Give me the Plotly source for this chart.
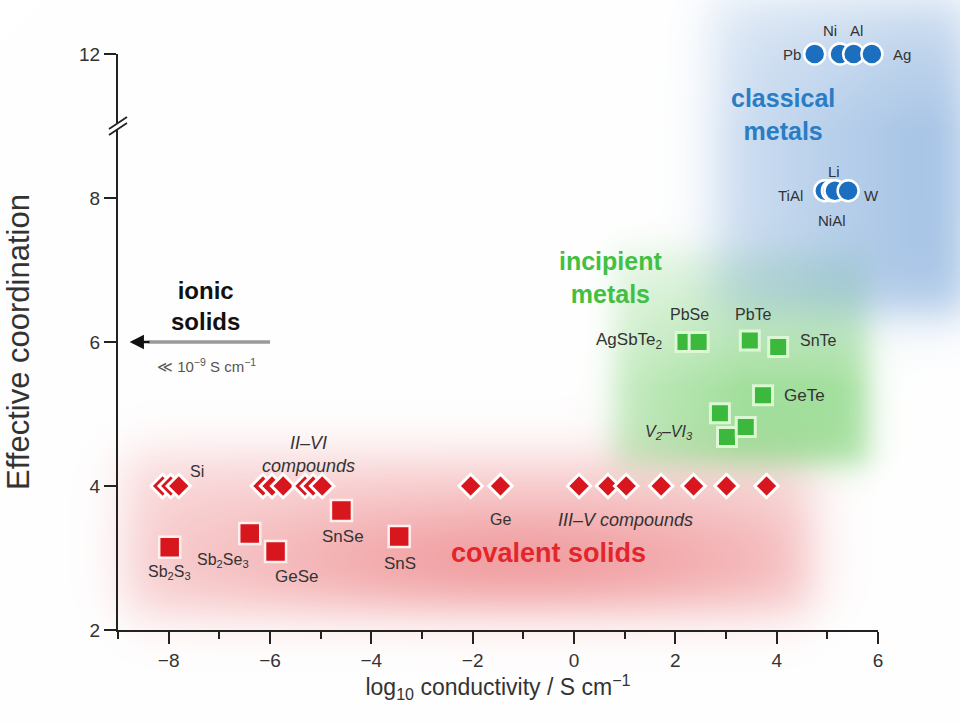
import base64, struct, zlib
import numpy as np
import plotly.graph_objects as go

# ---------------- data ----------------
# covalent solids (diamonds, coordination 4)
diamond_x = [-8.12, -7.96, -7.80, -6.14, -5.96, -5.74, -5.31, -5.15, -4.97,
             -2.04, -1.45, 0.10, 0.67, 1.03, 1.72, 2.36, 3.01, 3.80]
diamond_y = [4.0, 4.0, 4.0, 4.0, 4.0, 4.0, 4.0, 4.0, 4.0,
             4.0, 4.0, 4.0, 4.0, 4.0, 4.0, 4.0, 4.0, 4.0]

# covalent solids (squares)
covsq_names = ["Sb2S3", "Sb2Se3", "GeSe", "SnSe", "SnS"]
covsq_x = [-7.98, -6.40, -5.89, -4.59, -3.45]
covsq_y = [3.15, 3.34, 3.09, 3.66, 3.30]

# incipient metals (green squares)
inc_names = ["AgSbTe2", "PbSe", "PbTe", "SnTe", "GeTe", "V2VI3", "V2VI3", "V2VI3"]
inc_x = [2.20, 2.46, 3.47, 4.03, 3.73, 3.02, 2.88, 3.39]
inc_y = [6.00, 6.00, 6.02, 5.93, 5.26, 4.68, 5.01, 4.82]

# classical metals (circles; fcc at 12, bcc/others at 8)
met_x = [4.75, 5.25, 5.52, 5.88, 4.95, 5.10, 5.15, 5.41]
met_y = [12.0, 12.0, 12.0, 12.0, 8.1, 8.1, 8.1, 8.1]

# axis ticks
x_ticks = [-8, -6, -4, -2, 0, 2, 4, 6]
y_ticks_true = [2, 4, 6, 8, 12]

# ---------------- helpers ----------------
BREAK_LOW, BREAK_SHIFT = 8.5, 2.0   # broken y axis: 12 drawn where 10 would be


def ybrk(v):
    return v if v <= BREAK_LOW else v - BREAK_SHIFT


W, H = 960, 723
ML, MR, MT, MB = 118, 82, 54, 93
XR = [-9, 6]
YR = [2, 10]
PW, PH = W - ML - MR, H - MT - MB


def px(x):
    return ML + (x - XR[0]) / (XR[1] - XR[0]) * PW


def py(y):
    return MT + (YR[1] - y) / (YR[1] - YR[0]) * PH


def xpaper(x):
    return (x - XR[0]) / (XR[1] - XR[0])


def ypaper(y):
    return (y - YR[0]) / (YR[1] - YR[0])


# ---------------- soft background glows ----------------
xs = np.arange(W) + 0.5
ys = np.arange(H) + 0.5


def sig(t):
    return 1.0 / (1.0 + np.exp(-t))


def soft_rect(x0, x1, y0, y1, s):
    X0, X1 = px(x0), px(x1)
    Y0, Y1 = py(y1), py(y0)
    fx = sig((xs - X0) / s) * sig((X1 - xs) / s)
    fy = sig((ys - Y0) / s) * sig((Y1 - ys) / s)
    return np.outer(fy, fx)


def blob(cx, cy, rx, ry):
    gx = np.exp(-((xs - px(cx)) / rx) ** 2)
    gy = np.exp(-((ys - py(cy)) / ry) ** 2)
    return np.outer(gy, gx)


img = np.ones((H, W, 3)) * 255.0


def paint(alpha, color):
    global img
    a = np.clip(alpha, 0, 1)[..., None]
    img = img * (1 - a) + np.array(color, float)[None, None, :] * a


# red (covalent)
red_box = soft_rect(-8.85, 4.7, 2.2, 4.45, 15)
red_a = red_box * (0.22 + 0.30 * blob(-1.0, 2.9, 300, 70))
paint(red_a, (228, 70, 75))
# green (incipient)
gx_ramp = np.clip((xs - px(0.8)) / 130.0, 0, 1)
gy_ramp = np.clip((ys - py(7.3)) / 140.0, 0, 1)
green_a = soft_rect(0.78, 5.8, 4.3, 7.35, 9) * (0.14 + 0.44 * np.outer(gy_ramp, np.ones(W)) * (0.5 + 0.5 * gx_ramp[None, :]))
paint(green_a, (95, 200, 85))
# blue (classical)
bx_ramp = np.clip((xs - px(2.8)) / 220.0, 0, 1)
by_ramp = np.clip((ys - py(10.6)) / 120.0, 0, 1)
blue_a = soft_rect(2.72, 7.8, 6.4, 10.8, 14) * (0.16 + 0.36 * np.outer(0.45 + 0.55 * by_ramp, 0.3 + 0.7 * bx_ramp))
paint(blue_a, (80, 138, 205))

rgb = np.clip(img, 0, 255).astype(np.uint8)


def png_uri(arr):
    h, w, _ = arr.shape
    raw = b"".join(b"\x00" + arr[i].tobytes() for i in range(h))

    def chunk(t, d):
        c = struct.pack(">I", len(d)) + t + d
        return c + struct.pack(">I", zlib.crc32(t + d) & 0xFFFFFFFF)

    data = (b"\x89PNG\r\n\x1a\n" + chunk(b"IHDR", struct.pack(">IIBBBBB", w, h, 8, 2, 0, 0, 0))
            + chunk(b"IDAT", zlib.compress(raw, 9)) + chunk(b"IEND", b""))
    return "data:image/png;base64," + base64.b64encode(data).decode()


# ---------------- figure ----------------
fig = go.Figure()

fig.add_trace(go.Scatter(
    x=diamond_x, y=diamond_y, mode="markers", cliponaxis=False,
    marker=dict(symbol="diamond", size=18, color="#d7161d", line=dict(color="white", width=3)),
    hoverinfo="skip"))
fig.add_trace(go.Scatter(
    x=covsq_x, y=covsq_y, mode="markers", cliponaxis=False, text=covsq_names,
    marker=dict(symbol="square", size=21, color="#d7161d", line=dict(color="#fff0f0", width=2.5))))
fig.add_trace(go.Scatter(
    x=inc_x, y=inc_y, mode="markers", cliponaxis=False, text=inc_names,
    marker=dict(symbol="square", size=19, color="#3cb83c", line=dict(color="#dcf7d4", width=3))))
fig.add_trace(go.Scatter(
    x=met_x, y=[ybrk(v) for v in met_y], mode="markers", cliponaxis=False,
    marker=dict(symbol="circle", size=21, color="#1c6fbf", line=dict(color="white", width=2.5)),
    hoverinfo="skip"))

# ---------------- annotations ----------------
ann = []


def label(text, x, y, size=16, color="#333333", italic=False, bold=False):
    t = text
    if italic:
        t = "<i>" + t + "</i>"
    if bold:
        t = "<b>" + t + "</b>"
    ann.append(dict(x=xpaper(x), y=ypaper(y), xref="paper", yref="paper", text=t,
                    showarrow=False, xanchor="center", yanchor="middle",
                    font=dict(size=size, color=color)))


label("Si", -7.45, 4.20)
label("II–VI<br>compounds", -5.25, 4.44, size=18, italic=True)
label("Ge", -1.45, 3.53)
label("III–V compounds", 1.01, 3.53, size=18, italic=True)
label("Sb<sub>2</sub>S<sub>3</sub>", -7.98, 2.80)
label("Sb<sub>2</sub>Se<sub>3</sub>", -6.93, 2.97)
label("GeSe", -5.47, 2.74, size=17)
label("SnSe", -4.55, 3.30, size=17)
label("SnS", -3.43, 2.93, size=17)
label("AgSbTe<sub>2</sub>", 1.10, 6.01, size=17)
label("PbSe", 2.28, 6.38)
label("PbTe", 3.54, 6.38)
label("SnTe", 4.83, 6.02)
label("GeTe", 4.55, 5.26, size=17)
label("V<sub>2</sub>–VI<sub>3</sub>", 1.88, 4.74, italic=True)
label("Pb", 4.30, ybrk(12.0), size=15)
label("Ni", 5.05, ybrk(12.33), size=15)
label("Al", 5.58, ybrk(12.33), size=15)
label("Ag", 6.47, ybrk(12.0), size=15)
label("Li", 5.14, ybrk(8.37), size=15)
label("TiAl", 4.27, ybrk(8.04), size=15)
label("NiAl", 5.10, ybrk(7.69), size=15)
label("W", 5.88, ybrk(8.04), size=15)

label("classical<br>metals", 4.12, 9.16, size=25, color="#2a7cc4", bold=True)
label("incipient<br>metals", 0.72, 6.89, size=25, color="#43bf43", bold=True)
label("covalent solids", -0.50, 3.07, size=27, color="#e3262b", bold=True)
label("ionic<br>solids", -7.27, 6.50, size=24, color="#111111", bold=True)
label("≪ 10<sup>−9</sup> S cm<sup>−1</sup>", -7.25, 5.68, size=15, color="#555555")

# arrow for ionic solids
ann.append(dict(x=-8.77, y=6.0, ax=-8.35, ay=6.0, xref="x", yref="y", axref="x", ayref="y",
                text="", showarrow=True, arrowhead=2, arrowsize=1.1, arrowwidth=2.6,
                arrowcolor="#111111"))

shapes = [
    dict(type="line", xref="x", yref="y", x0=-6.0, x1=-8.4, y0=6.0, y1=6.0,
         line=dict(color="#9a9a9a", width=3.5)),
]


# broken-axis marks (paper coordinates derived from the axis mapping)
def ppx(pxv):
    return (pxv - ML) / PW


def ppy(pyv):
    return 1 - (pyv - MT) / PH


brk_y = py(9.0)
shapes.append(dict(type="rect", xref="paper", yref="paper", x0=ppx(ML - 4), x1=ppx(ML + 4),
                   y0=ppy(brk_y + 3), y1=ppy(brk_y - 3), line=dict(width=0), fillcolor="white"))
for off in (-3, 3):
    shapes.append(dict(type="line", xref="paper", yref="paper",
                       x0=ppx(ML - 9), y0=ppy(brk_y + off + 6), x1=ppx(ML + 9), y1=ppy(brk_y + off - 6),
                       line=dict(color="#222222", width=1.8)))

fig.update_layout(
    width=W, height=H, autosize=False,
    margin=dict(l=ML, r=MR, t=MT, b=MB, pad=0),
    paper_bgcolor="white", plot_bgcolor="rgba(0,0,0,0)",
    showlegend=False,
    font=dict(family="Liberation Sans, Arial, sans-serif", color="#333333"),
    annotations=ann, shapes=shapes,
    images=[dict(source=png_uri(rgb), xref="paper", yref="paper",
                 x=-ML / PW, y=1 + MT / PH, sizex=W / PW, sizey=H / PH,
                 xanchor="left", yanchor="top", sizing="stretch", layer="below")],
    xaxis=dict(range=XR, tickvals=x_ticks, ticks="outside", ticklen=12, tickwidth=2,
               tickcolor="#222222", showline=True, linewidth=2, linecolor="#222222",
               showgrid=False, zeroline=False, automargin=False,
               tickfont=dict(size=19, color="#333333"),
               minor=dict(dtick=1, tick0=0, ticks="outside", ticklen=7, tickwidth=1.8,
                          tickcolor="#222222", showgrid=False),
               title=dict(text="log<sub>10</sub> conductivity / S cm<sup>−1</sup>",
                          font=dict(size=23, color="#333333"), standoff=8)),
    yaxis=dict(range=YR, tickvals=[ybrk(v) for v in y_ticks_true],
               ticktext=[str(v) for v in y_ticks_true],
               ticks="outside", ticklen=12, tickwidth=2, tickcolor="#222222",
               showline=True, linewidth=2, linecolor="#222222",
               showgrid=False, zeroline=False, automargin=False,
               tickfont=dict(size=19, color="#333333"),
               title=dict(text="Effective coordination", font=dict(size=31, color="#333333"),
                          standoff=40)),
)

fig.write_html("out.html")
